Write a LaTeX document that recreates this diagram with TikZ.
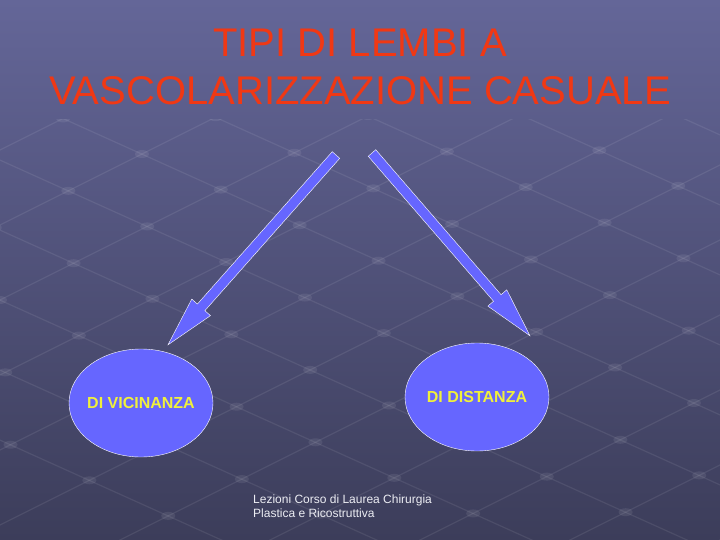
\documentclass[tikz,border=0pt]{standalone}
\usepackage{fontspec}
\setmainfont{Liberation Sans}
\usetikzlibrary{shapes.geometric,calc}

\definecolor{slidetop}{RGB}{100,102,152}
\definecolor{slidebottom}{RGB}{60,61,90}
\definecolor{titlered}{RGB}{240,56,20}
\definecolor{bubble}{RGB}{102,102,255}
\definecolor{labelyellow}{RGB}{240,240,60}

% block arrow from #1 to #2
\newcommand{\blockarrow}[2]{%
  \coordinate (#1neck) at ($(#2)!50pt!(#1)$);
  \draw[arrowshape] ($(#1)!5pt!90:(#2)$) -- ($(#1neck)!5pt!90:(#2)$)
    -- ($(#1neck)!12.5pt!90:(#2)$) -- (#2) -- ($(#1neck)!12.5pt!-90:(#2)$)
    -- ($(#1neck)!5pt!-90:(#2)$) -- ($(#1)!5pt!-90:(#2)$) -- cycle;}

\begin{document}
\begin{tikzpicture}[x=1pt,y=-1pt,
    bubblenode/.style={ellipse, draw=white, fill=bubble, thin, minimum width=144pt, minimum height=108pt,
      inner xsep=-12pt, inner ysep=0pt, font=\bfseries\fontsize{16}{19}\selectfont, text=labelyellow},
    arrowshape/.style={draw=white, fill=bubble, thin, line join=miter},
    titlenode/.style={align=center, text=titlered, font=\fontsize{40}{48}\selectfont, inner sep=0pt},
    footnode/.style={align=left, text=white!88!slidetop, font=\fontsize{12}{14}\selectfont, inner sep=0pt},
    gridline/.style={white, opacity=0.08, line width=1.2pt},
    griddot/.style={fill=white, opacity=0.08},
]
    %Background
    \shade[top color=slidetop, bottom color=slidebottom] (0,0) rectangle (720,540);
    \useasboundingbox (0,0) rectangle (720,540);
    \begin{scope}
        \clip (0,120) rectangle (720,540);
        \foreach \c in {0,75,...,900}
            \draw[gridline] (-100,\c+50) -- (820,\c-410);
        \foreach \d in {-400,-330,...,500}
            \draw[gridline] (-100,\d-45) -- (820,\d+370);
        \foreach \c in {0,75,...,900}
            \foreach \d in {-400,-330,...,500}
                \fill[griddot] ({(\c-\d)/0.951},{\c-0.5*(\c-\d)/0.951}) ellipse (7 and 4);
    \end{scope}

    %Nodes
    \node[titlenode] (title) at (360,67) {TIPI DI LEMBI A\\VASCOLARIZZAZIONE CASUALE};
    \node[bubblenode] (vicinanza) at (141,403) {DI VICINANZA};
    \node[bubblenode] (distanza) at (477,397) {DI DISTANZA};
    \node[footnode, anchor=north west] (foot) at (253,495) {Lezioni Corso di Laurea Chirurgia\\Plastica e Ricostruttiva};

    %Arrows
    \coordinate (tailL) at (336,155);
    \coordinate (tailR) at (372,153);
    \coordinate (tipL) at ($(vicinanza.north)+(27,-4)$);
    \coordinate (tipR) at ($(distanza.north)+(53,-7)$);
    \blockarrow{tailL}{tipL}
    \blockarrow{tailR}{tipR}
\end{tikzpicture}
\end{document}
